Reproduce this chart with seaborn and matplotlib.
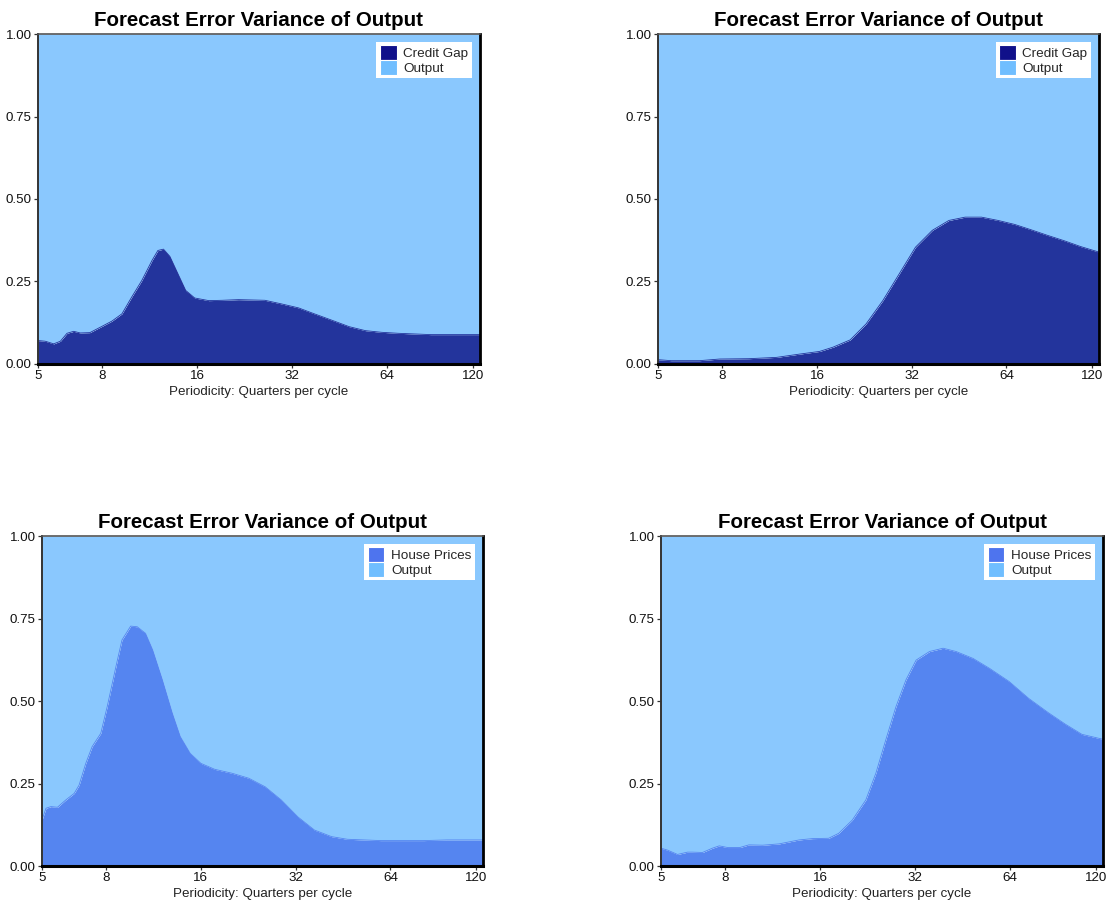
import numpy as np
import matplotlib
matplotlib.use("Agg")
import matplotlib.pyplot as plt
import seaborn as sns
from matplotlib.patches import Patch

# ---- data (periodicity in quarters per cycle, share of FEV) ----
p1 = [5.0, 5.27, 5.61, 5.89, 6.18, 6.49, 6.81, 7.3, 7.94, 8.58, 9.23, 9.9, 10.67, 11.5,
      12.0, 12.5, 13.1, 13.9, 14.7, 15.7, 17.4, 19.2, 21.6, 26.2, 29.6, 33.5, 37.6, 42.9,
      48.5, 54.6, 61.4, 69.3, 88.0, 100.0, 126.0]
credit_gap_1 = [0.071, 0.069, 0.061, 0.069, 0.093, 0.099, 0.094, 0.095, 0.113, 0.130, 0.152,
                0.202, 0.253, 0.314, 0.344, 0.348, 0.326, 0.273, 0.223, 0.200, 0.192, 0.193,
                0.195, 0.193, 0.182, 0.170, 0.152, 0.132, 0.113, 0.101, 0.096, 0.093, 0.089,
                0.089, 0.089]

p2 = [5.0, 5.51, 6.77, 7.85, 9.7, 11.9, 14.1, 16.3, 18.0, 20.4, 22.9, 25.9, 29.2, 32.9,
      37.2, 42.0, 47.3, 53.3, 60.2, 67.9, 76.5, 86.3, 97.3, 110.0, 126.0]
credit_gap_2 = [0.013, 0.010, 0.010, 0.015, 0.016, 0.020, 0.030, 0.038, 0.051, 0.073, 0.121,
                0.192, 0.273, 0.354, 0.405, 0.435, 0.445, 0.445, 0.435, 0.423, 0.407, 0.390,
                0.374, 0.356, 0.339]

p3 = [5.0, 5.15, 5.34, 5.60, 5.95, 6.33, 6.56, 6.89, 7.22, 7.69, 8.06, 8.59, 8.98, 9.57,
      10.04, 10.67, 11.24, 12.07, 12.98, 13.76, 14.8, 16.0, 17.7, 20.1, 22.7, 25.6, 28.8,
      32.5, 36.7, 41.6, 46.7, 52.8, 59.6, 67.3, 81.6, 97.0, 126.0]
house_prices_3 = [0.139, 0.175, 0.180, 0.178, 0.200, 0.220, 0.245, 0.311, 0.362, 0.402, 0.483,
                  0.604, 0.685, 0.727, 0.725, 0.705, 0.655, 0.564, 0.463, 0.392, 0.341, 0.311,
                  0.293, 0.281, 0.266, 0.240, 0.200, 0.149, 0.109, 0.089, 0.081, 0.079, 0.077,
                  0.077, 0.077, 0.079, 0.079]

p4 = [5.0, 5.25, 5.64, 6.07, 6.29, 6.77, 7.28, 7.65, 8.13, 8.89, 9.5, 10.5, 11.84, 13.7,
      15.1, 17.0, 18.3, 20.2, 22.3, 24.0, 25.8, 27.8, 29.9, 32.2, 35.5, 39.2, 43.1, 48.8,
      55.0, 63.5, 73.2, 84.4, 95.6, 108.0, 126.0]
house_prices_4 = [0.054, 0.048, 0.035, 0.042, 0.042, 0.041, 0.054, 0.061, 0.056, 0.056, 0.064,
                  0.063, 0.067, 0.079, 0.083, 0.084, 0.099, 0.139, 0.200, 0.281, 0.382, 0.483,
                  0.564, 0.624, 0.650, 0.660, 0.650, 0.629, 0.599, 0.559, 0.508, 0.465, 0.430,
                  0.399, 0.384]

x_ticks = [5, 8, 16, 32, 64, 120]
y_ticks = [0.0, 0.25, 0.5, 0.75, 1.0]
title = "Forecast Error Variance of Output"
xlabel = "Periodicity: Quarters per cycle"

# ---- style ----
sns.set_theme(style="white")
plt.rcParams["font.family"] = ["Liberation Sans", "DejaVu Sans"]

OUTPUT_FILL = "#8AC8FE"
OUTPUT_KEY = "#70BEFF"
CREDIT_FILL = "#23349C"
CREDIT_KEY = "#10108A"
HOUSE_FILL = "#5585F0"
HOUSE_KEY = "#4E74EE"

fig = plt.figure(figsize=(11.07, 9.07), dpi=100)
fig.patch.set_facecolor("white")

panels = [
    ([0.0343, 0.5987, 0.3993, 0.3638], p1, credit_gap_1, "Credit Gap", CREDIT_FILL, CREDIT_KEY),
    ([0.5944, 0.5987, 0.3984, 0.3638], p2, credit_gap_2, "Credit Gap", CREDIT_FILL, CREDIT_KEY),
    ([0.0379, 0.0452, 0.3984, 0.3638], p3, house_prices_3, "House Prices", HOUSE_FILL, HOUSE_KEY),
    ([0.5971, 0.0452, 0.3993, 0.3638], p4, house_prices_4, "House Prices", HOUSE_FILL, HOUSE_KEY),
]

for rect, px, vals, name, fill_c, key_c in panels:
    ax = fig.add_axes(rect)
    x = np.array(px)
    y = np.array(vals)
    ax.fill_between(x, 0, y, color=fill_c, lw=0)
    ax.fill_between(x, y, 1, color=OUTPUT_FILL, lw=0)
    sns.lineplot(x=x, y=y, ax=ax, color=fill_c, lw=0.6)
    ax.set_xscale("log")
    ax.set_xlim(5, 126)
    ax.set_ylim(0, 1)
    ax.set_xticks(x_ticks)
    ax.set_xticklabels([str(t) for t in x_ticks])
    ax.minorticks_off()
    ax.set_yticks(y_ticks)
    ax.set_yticklabels([f"{t:.2f}" for t in y_ticks])
    ax.tick_params(axis="both", which="major", direction="out", length=3.0, width=0.9,
                   color="#333333", labelsize=9.6, labelcolor="#111111", pad=1.5,
                   bottom=True, left=True)
    ax.set_xlabel(xlabel, fontsize=9.6, color="#222222", labelpad=3)
    ax.set_ylabel("")
    ax.set_title(title, fontsize=14.8, fontweight="bold", color="black", pad=6)
    for side, lw, col in [("left", 1.4, "#333333"), ("bottom", 2.2, "black"),
                          ("right", 2.0, "black"), ("top", 1.2, "#555555")]:
        ax.spines[side].set_visible(True)
        ax.spines[side].set_linewidth(lw)
        ax.spines[side].set_color(col)
    handles = [Patch(facecolor=key_c, edgecolor="white", lw=0.8, label=name),
               Patch(facecolor=OUTPUT_KEY, edgecolor="white", lw=0.8, label="Output")]
    leg = ax.legend(handles=handles, loc="upper right", fontsize=9.7, frameon=True,
                    fancybox=False, framealpha=1, facecolor="white", edgecolor="white",
                    handlelength=1.25, handleheight=1.25, handletextpad=0.5,
                    labelspacing=0.02, borderpad=0.25, borderaxespad=0.6)
    leg.get_frame().set_linewidth(0)

fig.savefig("out.png", dpi=100, facecolor="white")
